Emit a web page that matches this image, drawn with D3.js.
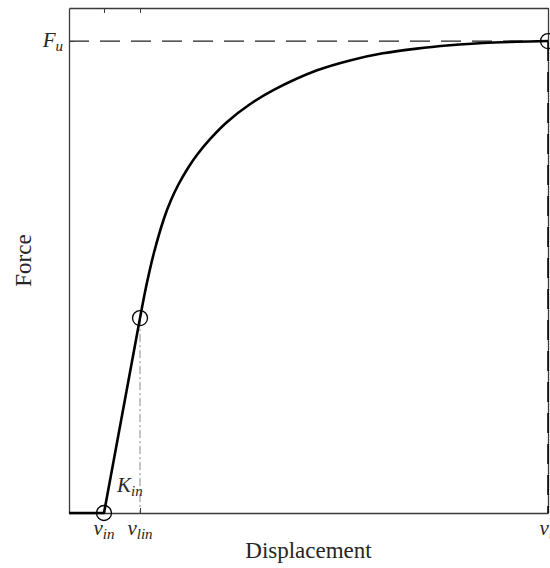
<!DOCTYPE html>
<html><head><meta charset="utf-8">
<script src="https://cdn.jsdelivr.net/npm/d3@7"></script>
<style>
html,body{margin:0;padding:0;background:#fff;overflow:hidden;}
svg{display:block;}
text{font-family:"Liberation Serif","DejaVu Serif",serif;fill:#262626;}
</style></head>
<body>
<svg id="chart" width="550" height="568"></svg>
<script>
// ---- data (displacement, force) ----
const keyX = [1.0, 2.03, 13.69];          // v_in, v_lin, v_u
const keyXLabels = [["v","in"],["v","lin"],["v","u"]];
const Fu = 1.0;
const yTickValues = [1.0];
const yTickLabels = [["F","u"]];
// linear (pre-yield) segment
const linX = [0, 1.0, 2.03];
const linY = [0, 0, 0.413];
// nonlinear segment
const curveX = [2.03, 2.22, 2.43, 2.72, 2.91, 3.12, 3.41, 3.65, 4.03, 4.51, 5.17, 5.84, 7.09, 8.03, 8.97, 9.94, 10.89, 11.83, 12.8, 13.69];
const curveY = [0.413, 0.485, 0.552, 0.625, 0.662, 0.695, 0.732, 0.758, 0.792, 0.828, 0.866, 0.896, 0.938, 0.959, 0.974, 0.984, 0.991, 0.996, 0.9985, 1.0];
// marked points
const markX = [1.0, 2.03, 13.69];
const markY = [0, 0.413, 1.0];
const xDomain = [0, 13.69];
const yDomain = [0, 1.07];

const svg = d3.select("#chart");
const m = {left:69, top:8, right:548, bottom:513};
const x = d3.scaleLinear().domain(xDomain).range([m.left, m.right]);
const y = d3.scaleLinear().domain(yDomain).range([m.bottom, m.top]);
const axisColor = "#3a3a3a";

// reference lines
svg.append("line").attr("x1", x(xDomain[0])).attr("x2", x(keyX[2]))
  .attr("y1", y(Fu)).attr("y2", y(Fu))
  .attr("stroke", "#222").attr("stroke-width", 1.2).attr("stroke-dasharray", "20,11");
svg.append("line").attr("x1", x(keyX[1])).attr("x2", x(keyX[1]))
  .attr("y1", y(linY[2])).attr("y2", y(0))
  .attr("stroke", "#8a8a8a").attr("stroke-width", 1).attr("stroke-dasharray", "8,3,2,3");

// axes (box)
const tickLen = 5;
const gB = svg.append("g").attr("transform", `translate(0,${m.bottom})`)
  .call(d3.axisBottom(x).tickValues(keyX).tickSize(-tickLen).tickSizeOuter(0).tickFormat(""));
const gT = svg.append("g").attr("transform", `translate(0,${m.top})`)
  .call(d3.axisTop(x).tickValues(keyX).tickSize(-tickLen).tickSizeOuter(0).tickFormat(""));
const gL = svg.append("g").attr("transform", `translate(${m.left},0)`)
  .call(d3.axisLeft(y).tickValues(yTickValues).tickSize(-tickLen).tickSizeOuter(0).tickFormat(""));
const gR = svg.append("g").attr("transform", `translate(${m.right},0)`)
  .call(d3.axisRight(y).tickValues(yTickValues).tickSize(-tickLen).tickSizeOuter(0).tickFormat(""));
[gB,gT,gL,gR].forEach(g => {
  g.selectAll("path,line").attr("stroke", axisColor).attr("stroke-width", 1);
  g.select(".domain").attr("stroke-width", 1.3);
});

// vertical dashed at v_u
svg.append("line").attr("x1", x(keyX[2])).attr("x2", x(keyX[2]))
  .attr("y1", y(Fu)).attr("y2", y(0))
  .attr("stroke", "#000").attr("stroke-width", 1.5).attr("stroke-dasharray", "20,11");

// curve
svg.append("path").datum(linX.map((d,i)=>[d, linY[i]]))
  .attr("d", d3.line().x(d=>x(d[0])).y(d=>y(d[1])))
  .attr("fill","none").attr("stroke","#000").attr("stroke-width",2.6).attr("stroke-linejoin","round");
svg.append("path").datum(curveX.map((d,i)=>[d, curveY[i]]))
  .attr("d", d3.line().x(d=>x(d[0])).y(d=>y(d[1])).curve(d3.curveCatmullRom.alpha(0.5)))
  .attr("fill","none").attr("stroke","#000").attr("stroke-width",2.6);

// markers
svg.selectAll("circle.mk").data(markX.map((d,i)=>[d, markY[i]])).enter()
  .append("circle").attr("class","mk")
  .attr("cx", d=>x(d[0])).attr("cy", d=>y(d[1])).attr("r", 7.5)
  .attr("fill","none").attr("stroke","#000").attr("stroke-width",1.3);

// tick labels with subscripts
function mathLabel(g, base, sub, px, py, anchor, fs){
  const t = g.append("text").attr("x", px).attr("y", py).attr("text-anchor", anchor)
    .style("font-style","italic").style("font-size", fs + "px");
  t.append("tspan").text(base);
  t.append("tspan").attr("dy", 4).style("font-size", Math.round(fs*0.7) + "px").text(sub);
  return t;
}
keyX.forEach((v,i)=> mathLabel(svg, keyXLabels[i][0], keyXLabels[i][1], x(v), 535, "middle", 21));
yTickValues.forEach((v,i)=> mathLabel(svg, yTickLabels[i][0], yTickLabels[i][1], m.left - 6, y(v)+6, "end", 21));
mathLabel(svg, "K", "in", 117, 492, "start", 21);

// axis titles
svg.append("text").attr("x", (m.left+m.right)/2).attr("y", 558).attr("text-anchor","middle")
  .style("font-size","23px").text("Displacement");
svg.append("text").attr("transform", `translate(31,${(m.top+m.bottom)/2}) rotate(-90)`)
  .attr("text-anchor","middle").style("font-size","23px").text("Force");
</script>
</body></html>
